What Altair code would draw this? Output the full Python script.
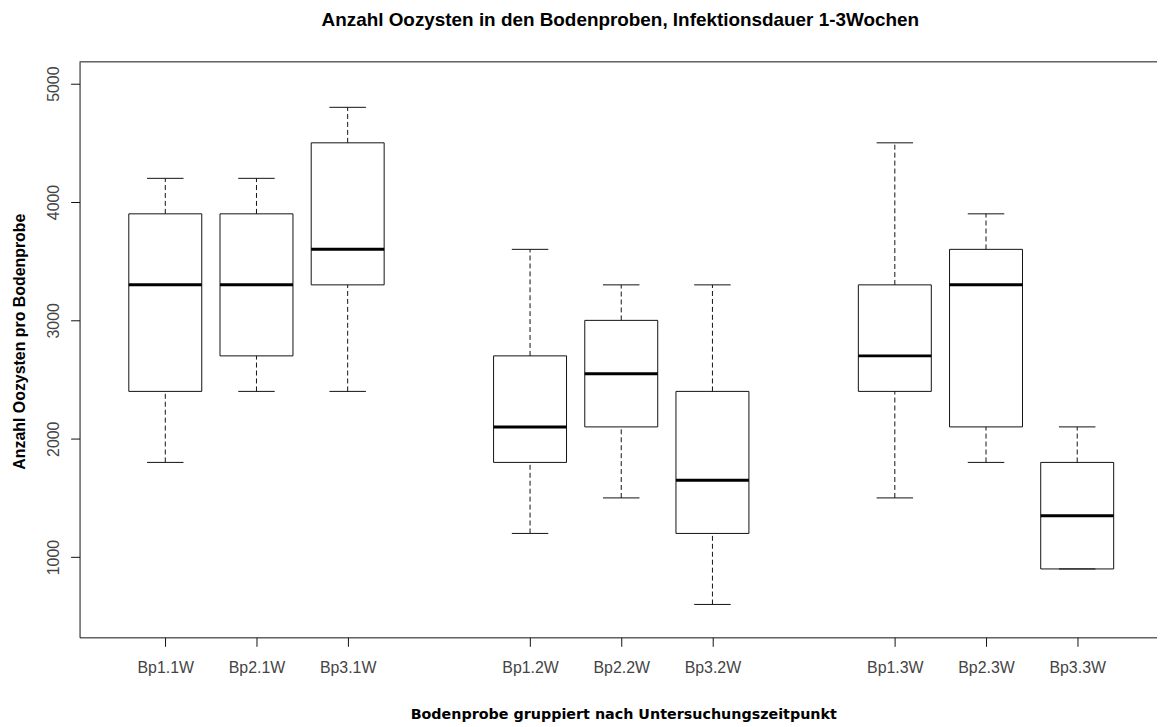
import altair as alt
import pandas as pd
import json

# --- data ---
names = ["Bp1.1W", "Bp2.1W", "Bp3.1W", "Bp1.2W", "Bp2.2W", "Bp3.2W", "Bp1.3W", "Bp2.3W", "Bp3.3W"]
week = [1, 1, 1, 2, 2, 2, 3, 3, 3]
probe = [1, 2, 3, 1, 2, 3, 1, 2, 3]
lower = [1800, 2400, 2400, 1200, 1500, 600, 1500, 1800, 900]
q1 = [2400, 2700, 3300, 1800, 2100, 1200, 2400, 2100, 900]
median = [3300, 3300, 3600, 2100, 2550, 1650, 2700, 3300, 1350]
q3 = [3900, 3900, 4500, 2700, 3000, 2400, 3300, 3600, 1800]
upper = [4200, 4200, 4800, 3600, 3300, 3300, 4500, 3900, 2100]
y_ticks = [1000, 2000, 3000, 4000, 5000]

df = pd.DataFrame({"name": names, "week": week, "probe": probe, "lower": lower,
                   "q1": q1, "median": median, "q3": q3, "upper": upper})

positions = [(w - 1) * 4 + p for w, p in zip(week, probe)]
label_arr = [""] * 13
for pos, n in zip(positions, names):
    label_arr[pos] = n
label_expr = json.dumps(label_arr) + "[datum.value]"

W, H = 1084, 579
xscale = alt.Scale(domain=[0.06, 11.875], nice=False, zero=False)
yscale = alt.Scale(domain=[322, 5184], nice=False, zero=False)

base = alt.Chart(df).transform_calculate(
    pos="(datum.week - 1) * 4 + datum.probe",
).transform_calculate(
    xl="datum.pos - 0.4", xr="datum.pos + 0.4",
    cl="datum.pos - 0.2", cr="datum.pos + 0.2",
)

x_axis = alt.Axis(values=positions, labelExpr=label_expr,
                  title="Bodenprobe gruppiert nach Untersuchungszeitpunkt")
y_axis = alt.Axis(values=y_ticks, format="d", title="Anzahl Oozysten pro Bodenprobe")

box = base.mark_rect(fill="white", stroke="#111", strokeWidth=1).encode(
    x=alt.X("xl:Q", scale=xscale, axis=x_axis), x2="xr:Q",
    y=alt.Y("q1:Q", scale=yscale, axis=y_axis), y2="q3:Q")
med = base.mark_rule(color="#000", strokeWidth=3).encode(
    x=alt.X("xl:Q"), x2="xr:Q",
    y=alt.Y("median:Q"))
whisk_lo = base.mark_rule(color="#111", strokeWidth=1, strokeDash=[5, 3]).encode(
    x=alt.X("pos:Q"),
    y=alt.Y("lower:Q"), y2="q1:Q")
whisk_hi = base.mark_rule(color="#111", strokeWidth=1, strokeDash=[5, 3]).encode(
    x=alt.X("pos:Q"),
    y=alt.Y("q3:Q"), y2="upper:Q")
cap_lo = base.mark_rule(color="#111", strokeWidth=1).encode(
    x=alt.X("cl:Q"), x2="cr:Q",
    y=alt.Y("lower:Q"))
cap_hi = base.mark_rule(color="#111", strokeWidth=1).encode(
    x=alt.X("cl:Q"), x2="cr:Q",
    y=alt.Y("upper:Q"))
top_frame = alt.Chart(pd.DataFrame({"f": [0]})).mark_rule(color="#111", strokeWidth=1).encode(
    x=alt.value(0), x2=alt.value(W), y=alt.value(0))

chart = alt.layer(box, med, whisk_lo, whisk_hi, cap_lo, cap_hi, top_frame).properties(
    width=W, height=H,
    background="white",
    padding={"left": 72, "top": 52, "right": 0, "bottom": 88},
    autosize=alt.AutoSizeParams(type="none"),
    title=alt.Title(
        "Anzahl Oozysten in den Bodenproben, Infektionsdauer 1-3Wochen",
        font="Liberation Sans", fontSize=19, fontWeight="bold", color="#000",
        anchor="middle", baseline="bottom", offset=13, dx=2,
    ),
).configure_view(
    strokeWidth=0
).configure_axis(
    grid=False, domainColor="#111", domainWidth=1, tickColor="#111", tickSize=9, tickWidth=1,
    labelFont="Liberation Sans", labelFontSize=16, labelColor="#444",
    labelFlush=False, labelOverlap=False, titleColor="#000", titleFontWeight="bold",
).configure_axisX(
    labelBaseline="alphabetic", labelPadding=26,
    titleFont="DejaVu Sans", titleFontSize=14.4,
    titleX=547, titleY=82, titleBaseline="alphabetic", titleAlign="center",
).configure_axisY(
    labelAngle=270, labelAlign="center", labelBaseline="alphabetic", labelPadding=12,
    titleFont="Liberation Sans", titleFontSize=16,
    titleAngle=270, titleBaseline="alphabetic", titleAlign="center", titleX=-55, titleY=281,
)

chart.save("out.html", embed_options={"renderer": "svg", "actions": False})
